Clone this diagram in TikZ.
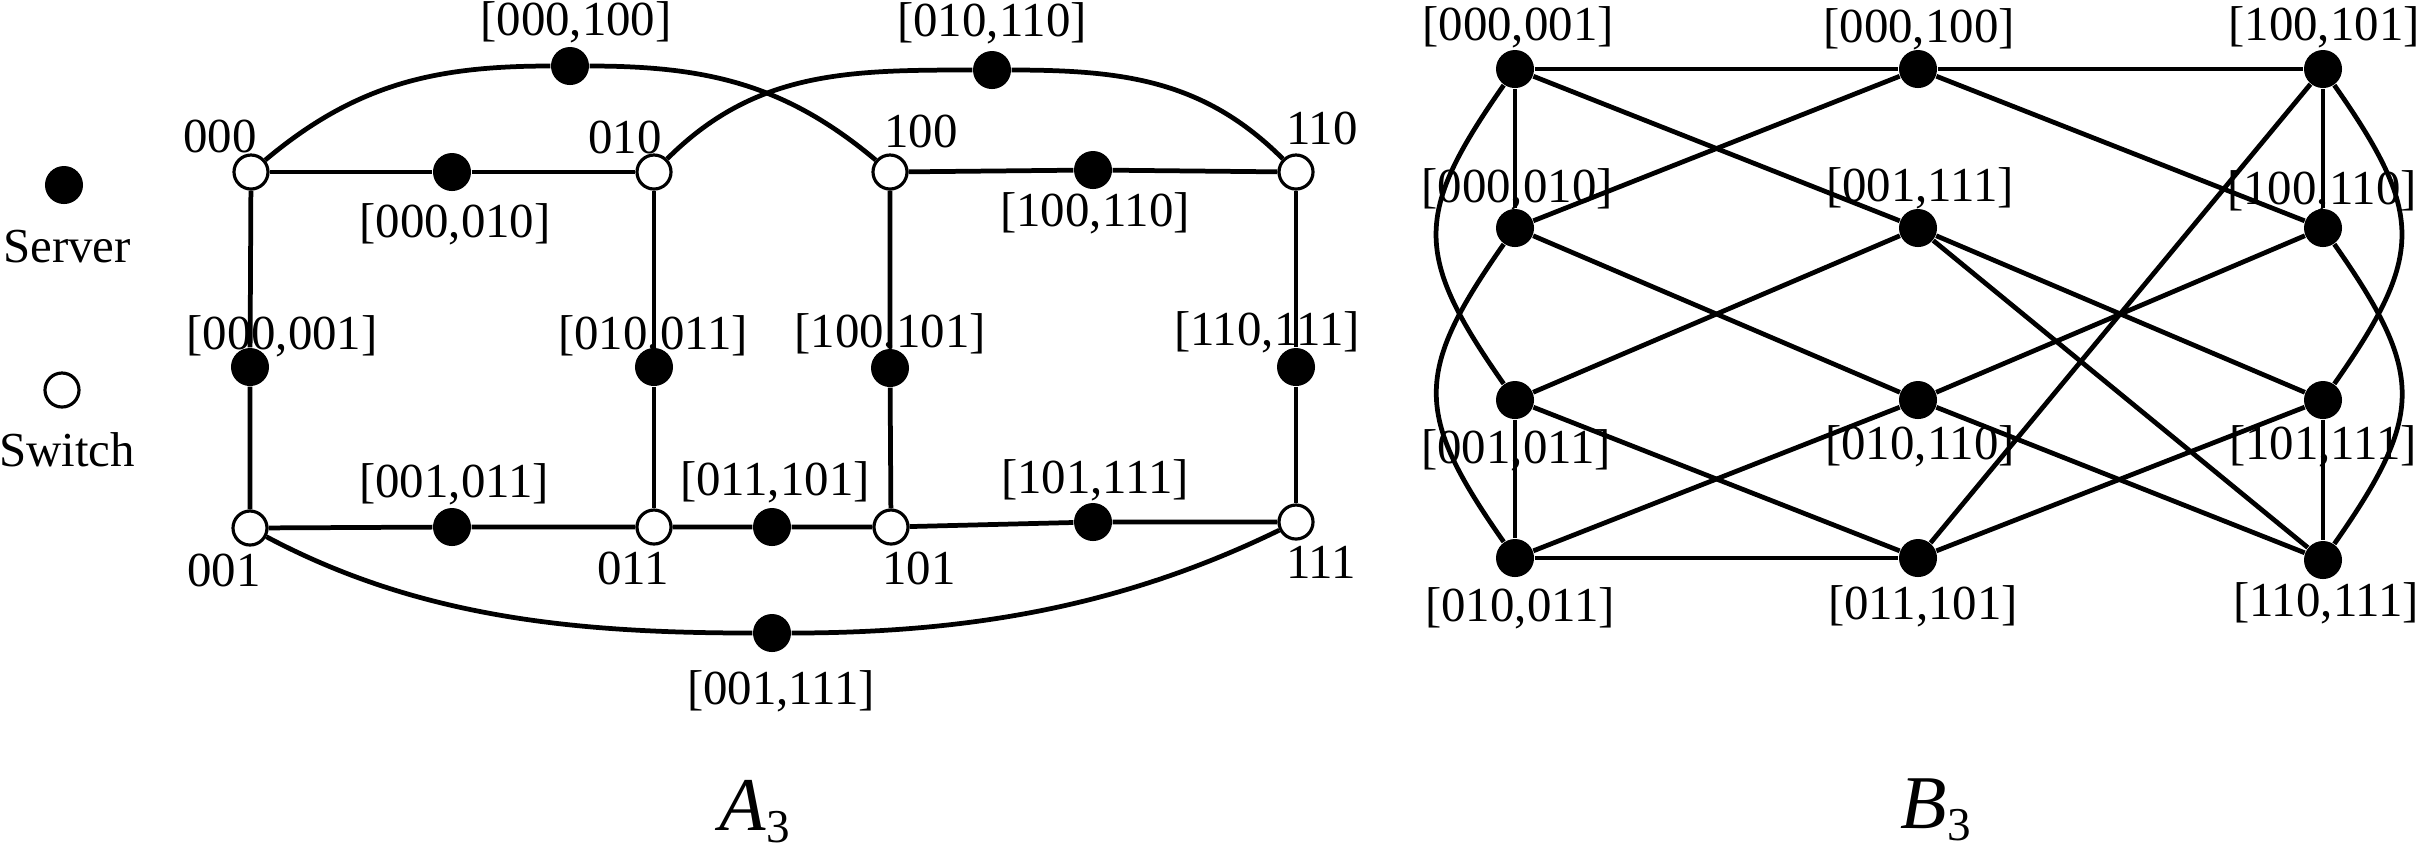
\documentclass[tikz,border=0pt]{standalone}
\usepackage{fontspec}
\setmainfont{Liberation Serif}
\begin{document}
\begin{tikzpicture}[x=0.01cm,y=0.01cm,
  link/.style={line width=1.35pt},
  server/.style={circle,fill=black,inner sep=0pt,minimum size=0.38cm},
  switchnode/.style={circle,draw=black,fill=white,line width=0.9pt,inner sep=0pt,minimum size=0.34cm},
  lab/.style={inner sep=0pt,font=\fontsize{13.9}{16}\selectfont},
  ttl/.style={inner sep=0pt,anchor=base west,font=\fontsize{21.6}{24}\selectfont},
]
\useasboundingbox (0,0) rectangle (2421,-847);

% ---------- legend ----------
\node[server] (legserver) at (64,-185) {};
\node[lab] (legservertext) at (67,-247) {Server};
\node[switchnode] (legswitch) at (62,-390) {};
\node[lab] (legswitchtext) at (67,-450) {Switch};

% ---------- A3 switches ----------
\node[switchnode] (s000) at (251,-172) {};
\node[switchnode] (s010) at (654,-172) {};
\node[switchnode] (s100) at (890,-172) {};
\node[switchnode] (s110) at (1296,-172) {};
\node[switchnode] (s001) at (250,-528) {};
\node[switchnode] (s011) at (654,-527) {};
\node[switchnode] (s101) at (891,-527) {};
\node[switchnode] (s111) at (1296,-522) {};

% ---------- A3 servers ----------
\node[server] (a000x010) at (452,-172) {};
\node[server] (a100x110) at (1093,-170) {};
\node[server] (a000x100) at (570,-66) {};
\node[server] (a010x110) at (992,-70) {};
\node[server] (a000x001) at (250,-367) {};
\node[server] (a010x011) at (654,-367) {};
\node[server] (a100x101) at (890,-368) {};
\node[server] (a110x111) at (1296,-367) {};
\node[server] (a001x011) at (452,-527) {};
\node[server] (a011x101) at (772,-527) {};
\node[server] (a101x111) at (1093,-522) {};
\node[server] (a001x111) at (772,-633) {};

% ---------- A3 switch labels ----------
\node[lab] (l000) at (220,-136) {000};
\node[lab] (l010) at (625,-137) {010};
\node[lab] (l100) at (921,-131) {100};
\node[lab] (l110) at (1322,-128) {110};
\node[lab] (l001) at (224,-570) {001};
\node[lab] (l011) at (633,-568) {011};
\node[lab] (l101) at (919,-568) {101};
\node[lab] (l111) at (1321,-562) {111};

% ---------- A3 server labels ----------
\node[lab] (la000x100) at (576,-22) {[000,100]};
\node[lab] (la010x110) at (992,-23) {[010,110]};
\node[lab] (la000x010) at (455,-224) {[000,010]};
\node[lab] (la100x110) at (1095,-213) {[100,110]};
\node[lab] (la000x001) at (282,-336) {[000,001]};
\node[lab] (la010x011) at (653,-336) {[010,011]};
\node[lab] (la100x101) at (890,-334) {[100,101]};
\node[lab] (la110x111) at (1267,-332) {[110,111]};
\node[lab] (la001x011) at (454,-484) {[001,011]};
\node[lab] (la011x101) at (775,-482) {[011,101]};
\node[lab] (la101x111) at (1095,-480) {[101,111]};
\node[lab] (la001x111) at (781,-691) {[001,111]};

% ---------- A3 links ----------
\draw[link] (s000) -- (a000x010) -- (s010);
\draw[link] (s100) -- (a100x110) -- (s110);
\draw[link] (s001) -- (a001x011) -- (s011) -- (a011x101) -- (s101) -- (a101x111) -- (s111);
\draw[link] (s000) -- (a000x001) -- (s001);
\draw[link] (s010) -- (a010x011) -- (s011);
\draw[link] (s100) -- (a100x101) -- (s101);
\draw[link] (s110) -- (a110x111) -- (s111);
\draw[link] (s000) to[out=40,in=180] (a000x100);
\draw[link] (a000x100) to[out=0,in=140] (s100);
\draw[link] (s010) to[out=45,in=180] (a010x110);
\draw[link] (a010x110) to[out=0,in=135] (s110);
\draw[link] (s001) to[out=-28,in=180,looseness=0.9] (a001x111);
\draw[link] (a001x111) to[out=0,in=-154,looseness=0.9] (s111);

\node[ttl] (titleA) at (719,-830) {\itshape A\upshape\raisebox{-0.12cm}{\fontsize{13.4}{15}\selectfont 3}};

% ---------- B3 servers ----------
\node[server] (bA) at (1515,-69) {};
\node[server] (bB) at (1918,-69) {};
\node[server] (bC) at (2323,-69) {};
\node[server] (bD) at (1515,-228) {};
\node[server] (bE) at (1918,-228) {};
\node[server] (bF) at (2323,-228) {};
\node[server] (bG) at (1515,-400) {};
\node[server] (bH) at (1918,-400) {};
\node[server] (bI) at (2323,-400) {};
\node[server] (bJ) at (1515,-558) {};
\node[server] (bK) at (1918,-558) {};
\node[server] (bL) at (2323,-560) {};

% ---------- B3 labels ----------
\node[lab] (lbA) at (1518,-27) {[000,001]};
\node[lab] (lbB) at (1919,-29) {[000,100]};
\node[lab] (lbC) at (2324,-27) {[100,101]};
\node[lab] (lbD) at (1517,-189) {[000,010]};
\node[lab] (lbE) at (1920,-188) {[001,111]};
\node[lab] (lbF) at (2322,-191) {[100,110]};
\node[lab] (lbG) at (1516,-450) {[001,011]};
\node[lab] (lbH) at (1920,-446) {[010,110]};
\node[lab] (lbI) at (2323,-446) {[101,111]};
\node[lab] (lbJ) at (1520,-608) {[010,011]};
\node[lab] (lbK) at (1923,-606) {[011,101]};
\node[lab] (lbL) at (2326,-603) {[110,111]};

% ---------- B3 links ----------
\draw[link] (bA) -- (bB) -- (bC);
\draw[link] (bJ) -- (bK);
\draw[link] (bA) -- (bD);
\draw[link] (bC) -- (bF);
\draw[link] (bG) -- (bJ);
\draw[link] (bI) -- (bL);
\draw[link] (bD) -- (bB);
\draw[link] (bA) -- (bE);
\draw[link] (bG) -- (bE);
\draw[link] (bD) -- (bH);
\draw[link] (bJ) -- (bH);
\draw[link] (bG) -- (bK);
\draw[link] (bB) -- (bF);
\draw[link] (bC) -- (bK);
\draw[link] (bK) -- (bI);
\draw[link] (bF) -- (bH);
\draw[link] (bH) -- (bL);
\draw[link] (bE) -- (bL);
\draw[link] (bE) -- (bI);
\draw[link] (bA) to[bend right=35,looseness=1.35] (bG);
\draw[link] (bD) to[bend right=35,looseness=1.35] (bJ);
\draw[link] (bC) to[bend left=35,looseness=1.35] (bI);
\draw[link] (bF) to[bend left=35,looseness=1.35] (bL);

\node[ttl] (titleB) at (1900,-828) {\itshape B\upshape\raisebox{-0.12cm}{\fontsize{13.4}{15}\selectfont 3}};
\end{tikzpicture}
\end{document}
